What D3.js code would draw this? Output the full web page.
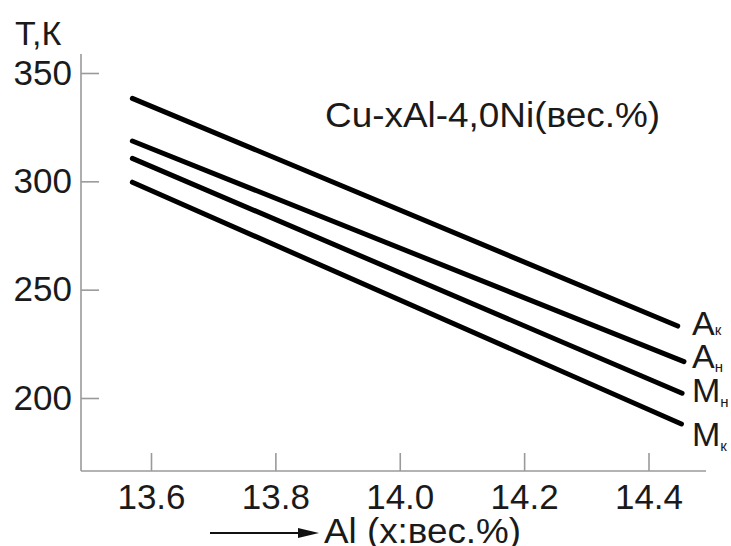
<!DOCTYPE html>
<html>
<head>
<meta charset="utf-8">
<script src="https://cdn.jsdelivr.net/npm/d3@7"></script>
<style>
  html, body { margin: 0; padding: 0; background: #fff; }
  svg { display: block; font-family: "Liberation Sans", Arial, sans-serif; }
</style>
</head>
<body>
<svg id="chart" width="731" height="546"></svg>
<script>
// ---- data ----
const xTicks = [13.6, 13.8, 14.0, 14.2, 14.4];
const xTickLabels = ["13.6", "13.8", "14.0", "14.2", "14.4"];
const yTicks = [200, 250, 300, 350];
const yTickLabels = ["200", "250", "300", "350"];
const seriesLetters = ["A", "A", "M", "M"];
const seriesSubs = ["к", "н", "н", "к"];
const alStart = [13.57, 13.57, 13.57, 13.57];
const alEnd = [14.447, 14.457, 14.454, 14.453];
const tStart = [338.3, 318.6, 310.6, 299.6];
const tEnd = [233.2, 216.8, 202.2, 188.0];
const titleText = "Cu-xAl-4,0Ni(вес.%)";
const yAxisTitle = "Т,К";
const xAxisTitle = "Al (x:вес.%)";

// ---- layout ----
const svg = d3.select("#chart");
const axisX = 81, axisY = 471, axisTop = 54, axisRight = 706;
const x = d3.scaleLinear().domain([13.6, 14.4]).range([151, 648.5]);
const y = d3.scaleLinear().domain([200, 350]).range([398, 73]);
const gray = "#9a9a9a";
const ink = "#1a1a1a";

// axis lines
svg.append("line").attr("x1", axisX).attr("x2", axisX).attr("y1", axisTop).attr("y2", axisY)
  .attr("stroke", gray).attr("stroke-width", 1.6);
svg.append("line").attr("x1", axisX).attr("x2", axisRight).attr("y1", axisY).attr("y2", axisY)
  .attr("stroke", gray).attr("stroke-width", 1.6);

// y axis
const gy = svg.append("g").attr("transform", `translate(${axisX},0)`)
  .call(d3.axisLeft(y).tickValues(yTicks).tickFormat((d, i) => yTickLabels[i])
    .tickSize(-18).tickPadding(9));
gy.select(".domain").remove();
gy.selectAll(".tick line").attr("stroke", gray).attr("stroke-width", 1.6);
gy.selectAll(".tick text").attr("font-size", 35).attr("fill", ink)
  .attr("font-family", "Liberation Sans, Arial, sans-serif");

// x axis
const gx = svg.append("g").attr("transform", `translate(0,${axisY})`)
  .call(d3.axisBottom(x).tickValues(xTicks).tickFormat((d, i) => xTickLabels[i])
    .tickSize(-18).tickPadding(13));
gx.select(".domain").remove();
gx.selectAll(".tick line").attr("stroke", gray).attr("stroke-width", 1.6);
gx.selectAll(".tick text").attr("font-size", 35).attr("fill", ink)
  .attr("font-family", "Liberation Sans, Arial, sans-serif");

// series lines
const series = seriesLetters.map((l, i) => ({
  letter: l, sub: seriesSubs[i],
  pts: [[alStart[i], tStart[i]], [alEnd[i], tEnd[i]]]
}));
const line = d3.line().x(d => x(d[0])).y(d => y(d[1]));
svg.selectAll("path.series").data(series).enter().append("path")
  .attr("class", "series")
  .attr("d", d => line(d.pts))
  .attr("fill", "none").attr("stroke", "#000").attr("stroke-width", 5)
  .attr("stroke-linecap", "round");

// series labels
const labelDy = [9, 6, 9, 22];
const subDy = [0, 4, 5, 5];
series.forEach((s, i) => {
  const ey = y(s.pts[1][1]);
  const t = svg.append("text")
    .attr("x", 692).attr("y", ey + labelDy[i])
    .attr("font-size", 34).attr("fill", ink);
  t.append("tspan").text(s.letter);
  t.append("tspan").attr("font-size", 15).attr("dy", subDy[i]).text(s.sub);
});

// title
svg.append("text").attr("x", 325).attr("y", 127).attr("font-size", 35)
  .attr("textLength", 335).attr("lengthAdjust", "spacingAndGlyphs")
  .attr("fill", ink).text(titleText);

// y axis title
svg.append("text").attr("x", 15).attr("y", 45).attr("font-size", 34)
  .attr("fill", ink).text(yAxisTitle);

// x axis title with arrow
const arrowY = 533;
svg.append("line").attr("x1", 210).attr("x2", 302).attr("y1", arrowY).attr("y2", arrowY)
  .attr("stroke", "#111").attr("stroke-width", 2.2);
svg.append("path").attr("d", `M298,${arrowY - 5}L319,${arrowY}L298,${arrowY + 5}Z`).attr("fill", "#111");
svg.append("text").attr("x", 324).attr("y", 543).attr("font-size", 35)
  .attr("textLength", 197).attr("lengthAdjust", "spacingAndGlyphs")
  .attr("fill", ink).text(xAxisTitle);
</script>
</body>
</html>
